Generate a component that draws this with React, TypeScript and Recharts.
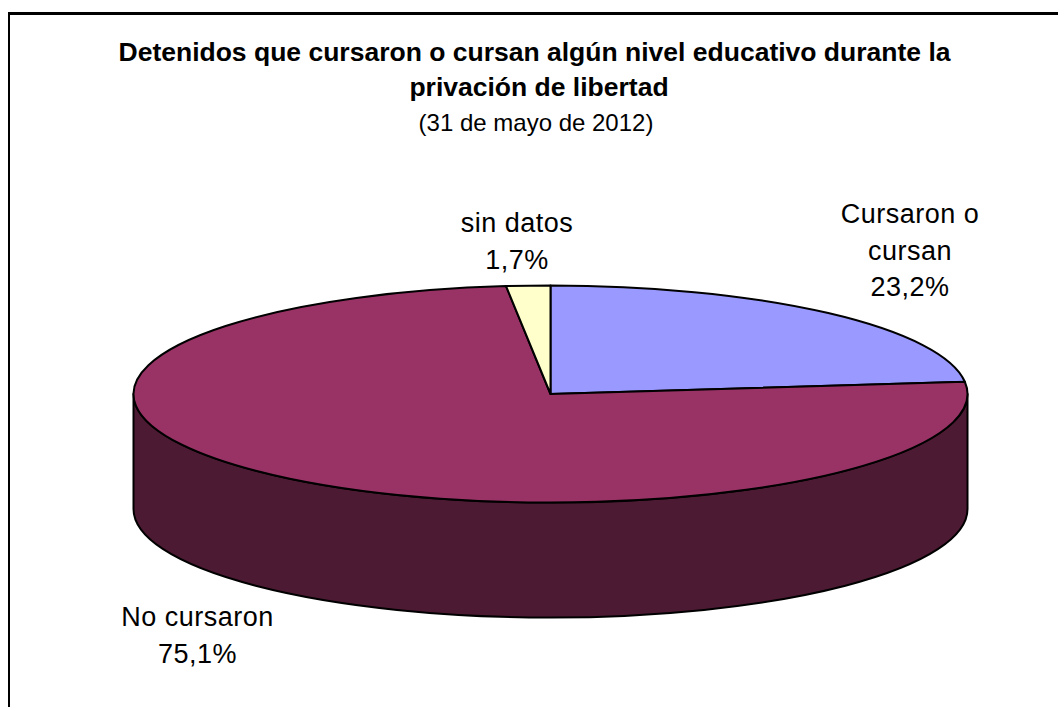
import { PieChart, Pie, Cell } from 'recharts'

const categories = ['Cursaron o cursan', 'No cursaron', 'sin datos']
const values = [23.2, 75.1, 1.7]
const topColors = ['#9999FF', '#993366', '#FFFFCC']
const wallColors = ['#4D4D80', '#4D1A33', '#808066']

const titleLines = [
  'Detenidos que cursaron o cursan algún nivel educativo durante la',
  'privación de libertad',
]
const subtitle = '(31 de mayo de 2012)'

const labelLines: Record<string, string[]> = {
  'Cursaron o cursan': ['Cursaron o', 'cursan'],
  'No cursaron': ['No cursaron'],
  'sin datos': ['sin datos'],
}
const labelAnchors: Record<string, { x: number; y: number }> = {
  'Cursaron o cursan': { x: 910, y: 223 },
  'No cursaron': { x: 197.5, y: 626 },
  'sin datos': { x: 517, y: 232 },
}

const data = categories.map((name, i) => ({ name, value: values[i] }))

const FONT = '"Liberation Sans", Arial, sans-serif'
const WIDTH = 1058
const HEIGHT = 707
const CX = 550.5
const CY = 394
const RX = 417
const RY = 108.5
const DEPTH = 115

const rad = (deg: number) => (deg * Math.PI) / 180
const px = (deg: number) => CX + RX * Math.cos(rad(deg))
const py = (deg: number) => CY - RY * Math.sin(rad(deg))

function Slice3D(props: any) {
  const { startAngle, endAngle, index } = props
  const large = Math.abs(startAngle - endAngle) > 180 ? 1 : 0
  const wallStart = Math.min(startAngle, 0)
  const wallEnd = Math.max(endAngle, -180)
  return (
    <g>
      {wallStart > wallEnd && (
        <path
          d={`M${px(wallStart)},${py(wallStart)} A${RX},${RY} 0 0 1 ${px(wallEnd)},${py(wallEnd)} L${px(wallEnd)},${py(wallEnd) + DEPTH} A${RX},${RY} 0 0 0 ${px(wallStart)},${py(wallStart) + DEPTH} Z`}
          fill={wallColors[index]}
          stroke="#000"
          strokeWidth={2}
          strokeLinejoin="round"
        />
      )}
      <path
        d={`M${CX},${CY} L${px(startAngle)},${py(startAngle)} A${RX},${RY} 0 ${large} 1 ${px(endAngle)},${py(endAngle)} Z`}
        fill={topColors[index]}
        stroke="#000"
        strokeWidth={2}
        strokeLinejoin="round"
      />
    </g>
  )
}

function SliceLabel(props: any) {
  const { name, value } = props
  const pos = labelAnchors[name]
  const lines = [...labelLines[name], `${value.toFixed(1).replace('.', ',')}%`]
  return (
    <text x={pos.x} y={pos.y} textAnchor="middle" fontFamily={FONT} fontSize={27} letterSpacing={0.5} fill="#000">
      {lines.map((line, i) => (
        <tspan key={line} x={pos.x} dy={i === 0 ? 0 : 36.5}>
          {line}
        </tspan>
      ))}
    </text>
  )
}

export default function App() {
  return (
    <div style={{ position: 'absolute', left: 0, top: 0, width: WIDTH, height: HEIGHT, background: '#fff', overflow: 'hidden' }}>
      {/* the source crop only keeps the top and left edges of the chart frame */}
      <div
        style={{
          position: 'absolute',
          left: 8,
          top: 12,
          width: 1050,
          height: 695,
          boxSizing: 'border-box',
          borderTop: '3px solid #000',
          borderLeft: '2px solid #000',
        }}
      />
      <div style={{ position: 'absolute', left: 0, top: 0 }}>
        <PieChart width={WIDTH} height={HEIGHT} margin={{ top: 0, right: 0, bottom: 0, left: 0 }}>
          <text x={534.5} y={61} textAnchor="middle" fontFamily={FONT} fontSize={26.5} fontWeight="bold" fill="#000">
            {titleLines[0]}
          </text>
          <text x={539} y={96} textAnchor="middle" fontFamily={FONT} fontSize={26.5} fontWeight="bold" fill="#000">
            {titleLines[1]}
          </text>
          <text x={536} y={131} textAnchor="middle" fontFamily={FONT} fontSize={24} fill="#000">
            {subtitle}
          </text>
          <Pie
            data={data}
            dataKey="value"
            nameKey="name"
            cx={CX}
            cy={CY}
            innerRadius={0}
            outerRadius={RX}
            startAngle={90}
            endAngle={-270}
            paddingAngle={0}
            isAnimationActive={false}
            shape={Slice3D}
            label={SliceLabel}
            labelLine={false}
          >
            {data.map((d, i) => (
              <Cell key={d.name} fill={topColors[i]} />
            ))}
          </Pie>
        </PieChart>
      </div>
    </div>
  )
}
